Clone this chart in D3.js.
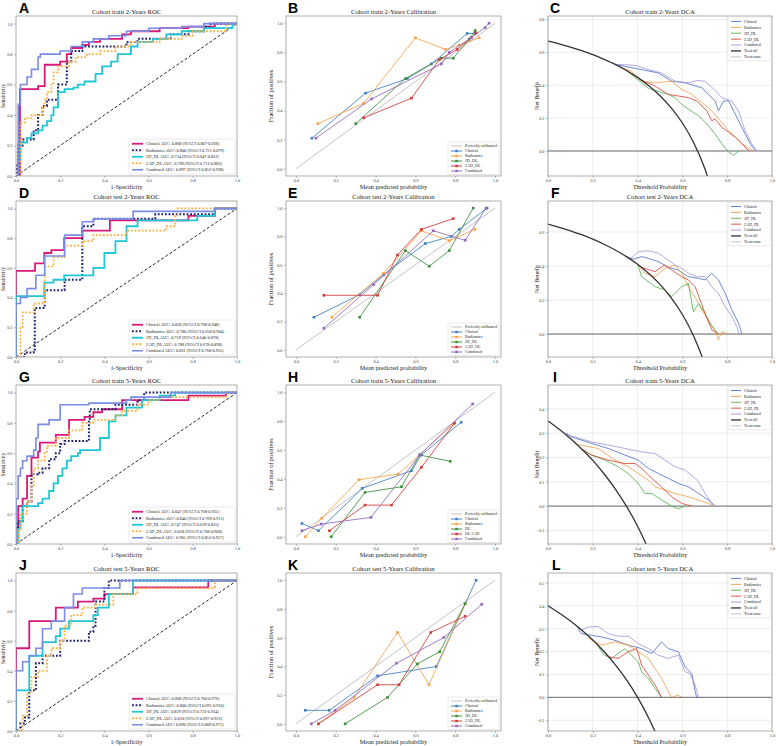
<!DOCTYPE html>
<html><head><meta charset="utf-8">
<script src="https://cdn.jsdelivr.net/npm/d3@7"></script>
<style>body{margin:0;background:#fff}svg{display:block}</style>
</head><body>
<script>
// ---------------- DATA ----------------
const models = ["Clinical","Radiomics","2D_DL","2.5D_DL","Combined"];
const axisTicks = [0,0.2,0.4,0.6,0.8,1.0];

// ROC step points [fpr, tpr] per panel, series in model order
const rocA = [
 [[0,0],[0.018,0.57],[0.1,0.59],[0.13,0.73],[0.2,0.75],[0.23,0.8],[0.25,0.84],[0.3,0.86],[0.33,0.88],[0.38,0.9],[0.48,0.93],[0.52,0.95],[0.65,0.97],[0.78,0.98],[0.9,1.0],[1,1]],
 [[0,0],[0.005,0.08],[0.01,0.2],[0.03,0.24],[0.08,0.3],[0.1,0.4],[0.12,0.46],[0.14,0.5],[0.19,0.6],[0.23,0.75],[0.25,0.82],[0.3,0.85],[0.5,0.88],[0.55,0.9],[0.7,0.93],[0.78,0.95],[0.85,0.98],[0.88,1.0],[1,1]],
 [[0,0],[0.01,0.1],[0.02,0.22],[0.05,0.25],[0.07,0.28],[0.1,0.3],[0.12,0.33],[0.14,0.36],[0.16,0.4],[0.17,0.45],[0.19,0.55],[0.22,0.57],[0.26,0.58],[0.28,0.6],[0.31,0.62],[0.36,0.67],[0.39,0.72],[0.43,0.75],[0.46,0.8],[0.52,0.85],[0.55,0.88],[0.62,0.9],[0.68,0.93],[0.75,0.95],[0.85,0.97],[0.98,1.0],[1,1]],
 [[0,0],[0.02,0.35],[0.04,0.38],[0.07,0.4],[0.12,0.45],[0.13,0.5],[0.14,0.55],[0.16,0.6],[0.17,0.68],[0.19,0.72],[0.24,0.75],[0.27,0.78],[0.32,0.8],[0.38,0.82],[0.45,0.85],[0.52,0.88],[0.65,0.9],[0.75,0.92],[0.8,0.95],[0.95,1.0],[1,1]],
 [[0,0],[0.01,0.47],[0.02,0.6],[0.05,0.65],[0.07,0.7],[0.1,0.78],[0.11,0.8],[0.2,0.82],[0.25,0.85],[0.3,0.88],[0.35,0.9],[0.42,0.92],[0.5,0.95],[0.6,0.97],[0.75,0.98],[0.85,1.0],[1,1]]
];
const rocD = [
 [[0,0],[0,0.58],[0.086,0.63],[0.128,0.7],[0.16,0.72],[0.218,0.8],[0.3,0.85],[0.425,0.92],[0.78,0.95],[0.9,1.0],[1,1]],
 [[0,0],[0.04,0.03],[0.08,0.05],[0.085,0.33],[0.13,0.45],[0.22,0.52],[0.3,0.88],[0.35,0.93],[0.63,0.96],[0.9,1.0],[1,1]],
 [[0,0],[0,0.41],[0.128,0.5],[0.17,0.52],[0.218,0.55],[0.35,0.6],[0.4,0.7],[0.45,0.78],[0.5,0.88],[0.55,0.92],[0.82,0.95],[0.9,1.0],[1,1]],
 [[0,0],[0.02,0.2],[0.03,0.3],[0.08,0.36],[0.13,0.61],[0.17,0.67],[0.22,0.75],[0.3,0.78],[0.35,0.82],[0.5,0.85],[0.68,0.88],[0.72,0.95],[0.73,1.0],[1,1]],
 [[0,0],[0,0.36],[0.02,0.4],[0.05,0.46],[0.09,0.55],[0.13,0.68],[0.22,0.82],[0.3,0.91],[0.35,0.93],[0.53,0.98],[0.9,1.0],[1,1]]
];
const rocG = [
 [[0,0],[0.01,0.25],[0.03,0.3],[0.05,0.45],[0.07,0.57],[0.1,0.61],[0.108,0.67],[0.18,0.72],[0.24,0.82],[0.31,0.84],[0.35,0.87],[0.39,0.89],[0.48,0.95],[0.78,0.98],[0.95,1.0],[1,1]],
 [[0,0],[0.01,0.15],[0.03,0.25],[0.05,0.28],[0.07,0.46],[0.1,0.47],[0.12,0.5],[0.15,0.56],[0.18,0.6],[0.2,0.66],[0.22,0.68],[0.33,0.82],[0.334,0.89],[0.45,0.92],[0.55,0.95],[0.58,1.0],[1,1]],
 [[0,0],[0.01,0.1],[0.02,0.15],[0.03,0.25],[0.1,0.27],[0.12,0.3],[0.15,0.35],[0.17,0.4],[0.19,0.45],[0.21,0.5],[0.23,0.55],[0.25,0.58],[0.28,0.6],[0.29,0.62],[0.38,0.7],[0.42,0.81],[0.45,0.85],[0.5,0.9],[0.57,0.95],[0.65,0.98],[0.72,1.0],[1,1]],
 [[0,0],[0.01,0.1],[0.02,0.2],[0.05,0.28],[0.07,0.38],[0.08,0.5],[0.1,0.55],[0.13,0.6],[0.14,0.65],[0.18,0.7],[0.24,0.75],[0.3,0.8],[0.35,0.82],[0.45,0.85],[0.48,0.88],[0.55,0.92],[0.6,0.95],[0.65,0.97],[0.95,1.0],[1,1]],
 [[0,0],[0,0.3],[0.01,0.45],[0.02,0.5],[0.03,0.55],[0.05,0.58],[0.08,0.62],[0.09,0.7],[0.1,0.79],[0.15,0.82],[0.2,0.92],[0.33,0.93],[0.5,0.95],[0.52,0.97],[0.7,1.0],[1,1]]
];
const rocJ = [
 [[0,0],[0,0.55],[0.06,0.73],[0.18,0.82],[0.28,0.86],[0.35,0.88],[0.4,0.91],[0.53,0.955],[0.87,1.0],[1,1]],
 [[0,0],[0.02,0.05],[0.04,0.09],[0.06,0.27],[0.09,0.45],[0.12,0.5],[0.2,0.6],[0.33,0.66],[0.35,0.7],[0.36,0.86],[0.4,0.95],[0.42,1.0],[1,1]],
 [[0,0],[0,0.27],[0.06,0.5],[0.12,0.59],[0.18,0.63],[0.2,0.68],[0.24,0.73],[0.35,0.77],[0.37,0.82],[0.42,0.91],[0.53,1.0],[1,1]],
 [[0,0],[0.03,0.1],[0.05,0.25],[0.07,0.36],[0.1,0.4],[0.14,0.5],[0.16,0.55],[0.2,0.6],[0.22,0.7],[0.25,0.77],[0.3,0.82],[0.36,0.84],[0.44,0.91],[0.55,0.95],[0.9,1.0],[1,1]],
 [[0,0],[0,0.4],[0.03,0.46],[0.06,0.5],[0.09,0.55],[0.12,0.68],[0.16,0.73],[0.22,0.82],[0.26,0.91],[0.3,0.95],[0.47,1.0],[1,1]]
];
const rocLabelsA = ["Clinical AUC: 0.868 (95%CI 0.807-0.928)","Radiomics AUC: 0.800 (95%CI 0.721-0.879)","2D_DL AUC: 0.734 (95%CI 0.647-0.822)","2.5D_DL AUC: 0.789 (95%CI 0.711-0.866)","Combined AUC: 0.897 (95%CI 0.852-0.938)"];
const rocLabelsD = ["Clinical AUC: 0.858 (95%CI 0.768-0.948)","Radiomics AUC: 0.780 (95%CI 0.658-0.904)","2D_DL AUC: 0.759 (95%CI 0.640-0.878)","2.5D_DL AUC: 0.788 (95%CI 0.678-0.898)","Combined AUC: 0.861 (95%CI 0.768-0.955)"];
const rocLabelsG = ["Clinical AUC: 0.847 (95%CI 0.768-0.925)","Radiomics AUC: 0.840 (95%CI 0.769-0.911)","2D_DL AUC: 0.747 (95%CI 0.659-0.835)","2.5D_DL AUC: 0.838 (95%CI 0.768-0.908)","Combined AUC: 0.905 (95%CI 0.853-0.957)"];
const rocLabelsJ = ["Clinical AUC: 0.868 (95%CI 0.760-0.976)","Radiomics AUC: 0.800 (95%CI 0.691-0.910)","2D_DL AUC: 0.829 (95%CI 0.723-0.934)","2.5D_DL AUC: 0.810 (95%CI 0.697-0.923)","Combined AUC: 0.890 (95%CI 0.809-0.971)"];

// Calibration points [mean predicted, fraction of positives]
const calB = [
 [[0.08,0.21],[0.35,0.52],[0.56,0.62],[0.68,0.72],[0.86,0.93],[0.9,0.93]],
 [[0.11,0.31],[0.34,0.45],[0.6,0.9],[0.75,0.82],[0.82,0.85],[0.92,0.9]],
 [[0.3,0.31],[0.55,0.62],[0.73,0.76],[0.79,0.76],[0.87,0.89],[0.9,0.95]],
 [[0.34,0.35],[0.58,0.485],[0.72,0.75],[0.81,0.82],[0.88,0.9],[0.905,0.935]],
 [[0.1,0.21],[0.38,0.48],[0.73,0.72],[0.77,0.8],[0.88,0.9],[0.95,0.97],[0.97,1.0]]
];
const calE = [
 [[0.09,0.23],[0.32,0.39],[0.44,0.53],[0.65,0.75],[0.78,0.8],[0.82,0.85],[0.96,1.0]],
 [[0.18,0.23],[0.44,0.54],[0.63,0.84],[0.77,0.77],[0.9,0.85]],
 [[0.32,0.23],[0.55,0.7],[0.67,0.59],[0.77,0.7],[0.89,1.0]],
 [[0.14,0.385],[0.41,0.385],[0.51,0.67],[0.63,0.85],[0.79,0.926]],
 [[0.14,0.153],[0.39,0.46],[0.69,0.84],[0.85,0.773],[0.955,1.0]]
];
const calH = [
 [[0.03,0.092],[0.113,0.042],[0.333,0.335],[0.58,0.457],[0.63,0.566],[0.83,0.792]],
 [[0.047,0.0],[0.13,0.129],[0.317,0.395],[0.513,0.434],[0.793,0.781]],
 [[0.177,0.0],[0.347,0.307],[0.53,0.346],[0.622,0.566],[0.775,0.522]],
 [[0.168,0.042],[0.347,0.219],[0.48,0.219],[0.63,0.48],[0.797,0.787]],
 [[0.03,0.042],[0.127,0.088],[0.377,0.134],[0.622,0.566],[0.888,0.919]]
];
const calK = [
 [[0.047,0.094],[0.167,0.094],[0.41,0.334],[0.705,0.399],[0.905,1.0]],
 [[0.113,0.0],[0.293,0.184],[0.51,0.636],[0.668,0.272],[0.85,0.836]],
 [[0.247,0.0],[0.46,0.184],[0.61,0.417],[0.722,0.502],[0.85,0.836]],
 [[0.113,0.0],[0.41,0.272],[0.518,0.272],[0.677,0.636],[0.85,0.749]],
 [[0.077,0.0],[0.197,0.094],[0.505,0.422],[0.743,0.601],[0.933,0.832]]
];
const calLabels = ["Perfectly calibrated","Clinical","Radiomics","2D_DL","2.5D_DL","Combined"];
const calLabelsH = ["Perfectly calibrated","Clinical","Radiomics","DL","DL 2.5D","Combined"];

// DCA: net benefit curves [threshold, net benefit]
const dcaC = [
 [[0.3,0.526],[0.343,0.514],[0.418,0.494],[0.493,0.474],[0.552,0.424],[0.612,0.414],[0.687,0.384],[0.716,0.344],[0.746,0.304],[0.761,0.244],[0.784,0.304],[0.806,0.304],[0.836,0.224],[0.88,0.104],[0.903,0.044],[0.925,0]],
 [[0.33,0.505],[0.373,0.484],[0.418,0.424],[0.478,0.414],[0.552,0.424],[0.597,0.374],[0.642,0.344],[0.687,0.294],[0.731,0.244],[0.769,0.184],[0.806,0.124],[0.836,0.084],[0.866,0.044],[0.896,0.014],[0.918,0]],
 [[0.35,0.489],[0.403,0.43],[0.448,0.38],[0.478,0.368],[0.537,0.344],[0.567,0.324],[0.597,0.284],[0.627,0.254],[0.672,0.214],[0.709,0.164],[0.746,0.104],[0.776,0.044],[0.806,-0.006],[0.828,-0.026],[0.851,0]],
 [[0.35,0.489],[0.418,0.43],[0.478,0.394],[0.537,0.344],[0.582,0.334],[0.627,0.324],[0.664,0.304],[0.709,0.244],[0.731,0.184],[0.746,0.194],[0.776,0.144],[0.806,0.114],[0.836,0.084],[0.866,0.044],[0.896,0]],
 [[0.3,0.526],[0.343,0.524],[0.39,0.52],[0.448,0.494],[0.507,0.474],[0.567,0.424],[0.627,0.414],[0.664,0.428],[0.7,0.424],[0.731,0.388],[0.776,0.324],[0.82,0.304],[0.85,0.244],[0.88,0.124],[0.91,0.044],[0.933,0]]
];
const dcaF = [
 [[0.35,0.455],[0.38,0.44],[0.418,0.455],[0.448,0.445],[0.493,0.425],[0.537,0.392],[0.582,0.376],[0.627,0.337],[0.672,0.327],[0.701,0.318],[0.731,0.357],[0.761,0.318],[0.791,0.239],[0.821,0.141],[0.851,0.063],[0.866,0]],
 [[0.4,0.41],[0.433,0.357],[0.478,0.337],[0.522,0.386],[0.567,0.406],[0.597,0.357],[0.627,0.278],[0.664,0.2],[0.687,0.141],[0.716,0.082],[0.746,0.024],[0.761,-0.035],[0.776,0.014],[0.806,0]],
 [[0.4,0.41],[0.418,0.337],[0.478,0.278],[0.522,0.259],[0.552,0.22],[0.597,0.278],[0.627,0.298],[0.649,0.131],[0.672,0.18],[0.701,0.122],[0.731,0.043],[0.761,0]],
 [[0.42,0.39],[0.478,0.367],[0.522,0.406],[0.552,0.376],[0.597,0.337],[0.627,0.318],[0.657,0.278],[0.679,0.2],[0.701,0.122],[0.731,0.024],[0.761,0]],
 [[0.35,0.455],[0.366,0.44],[0.403,0.484],[0.448,0.49],[0.493,0.475],[0.537,0.435],[0.567,0.406],[0.597,0.386],[0.627,0.357],[0.664,0.337],[0.701,0.337],[0.731,0.278],[0.761,0.239],[0.791,0.161],[0.821,0.102],[0.843,0.043],[0.854,0]]
];
const dcaI = [
 [[0.08,0.30],[0.104,0.285],[0.194,0.258],[0.269,0.237],[0.343,0.21],[0.403,0.189],[0.448,0.155],[0.493,0.134],[0.537,0.114],[0.582,0.093],[0.627,0.079],[0.672,0.052],[0.716,0.025],[0.746,0]],
 [[0.12,0.255],[0.149,0.25],[0.224,0.237],[0.299,0.189],[0.358,0.162],[0.403,0.134],[0.448,0.107],[0.478,0.079],[0.522,0.066],[0.567,0.052],[0.627,0.038],[0.672,0.025],[0.716,0.011],[0.746,0]],
 [[0.15,0.235],[0.194,0.21],[0.254,0.189],[0.313,0.162],[0.358,0.134],[0.403,0.093],[0.433,0.052],[0.463,0.052],[0.507,0.025],[0.552,0],[0.582,-0.011],[0.612,0]],
 [[0.15,0.235],[0.194,0.21],[0.269,0.189],[0.343,0.175],[0.388,0.175],[0.418,0.155],[0.463,0.114],[0.507,0.079],[0.552,0.038],[0.597,0.011],[0.642,0]],
 [[0.08,0.30],[0.104,0.288],[0.194,0.264],[0.269,0.251],[0.343,0.237],[0.418,0.223],[0.478,0.216],[0.522,0.189],[0.567,0.162],[0.612,0.148],[0.657,0.114],[0.672,0.1],[0.701,0.052],[0.731,0.011],[0.746,0]]
];
const dcaL = [
 [[0.13,0.31],[0.149,0.278],[0.194,0.271],[0.239,0.264],[0.299,0.249],[0.358,0.228],[0.418,0.213],[0.463,0.191],[0.507,0.242],[0.537,0.213],[0.582,0.199],[0.612,0.133],[0.642,0.104],[0.657,0.025],[0.664,0]],
 [[0.18,0.26],[0.194,0.249],[0.239,0.228],[0.299,0.242],[0.358,0.228],[0.403,0.199],[0.448,0.17],[0.478,0.126],[0.507,0.083],[0.537,0.025],[0.552,0],[0.582,0.01],[0.597,0]],
 [[0.22,0.228],[0.25,0.185],[0.284,0.17],[0.343,0.213],[0.373,0.184],[0.403,0.155],[0.418,0.112],[0.448,0.083],[0.478,0.039],[0.507,0]],
 [[0.25,0.2],[0.269,0.177],[0.313,0.17],[0.358,0.199],[0.396,0.213],[0.418,0.141],[0.448,0.097],[0.478,0.054],[0.507,0]],
 [[0.15,0.294],[0.179,0.307],[0.224,0.31],[0.269,0.278],[0.313,0.267],[0.358,0.267],[0.403,0.235],[0.448,0.213],[0.493,0.184],[0.537,0.17],[0.582,0.184],[0.612,0.112],[0.634,0.104],[0.657,0.054],[0.672,0]]
];
// Treat-all curves read at thresholds 0,0.05,...
const dcaThresholds = [0,0.05,0.1,0.15,0.2,0.25,0.3,0.35,0.4,0.45,0.5,0.55,0.6,0.65,0.7,0.75];
const treatAllC = [0.668,0.651,0.631,0.609,0.585,0.557,0.526,0.489,0.447,0.396,0.336,0.262,0.170,0.051,-0.107,-0.328];
const treatAllF = [0.646,0.627,0.607,0.584,0.558,0.528,0.494,0.455,0.410,0.356,0.292,0.213,0.115,-0.011,-0.180,-0.416];
const treatAllI = [0.35,0.316,0.278,0.235,0.188,0.133,0.071,0.0,-0.083,-0.182,-0.30,-0.44,-0.625,-0.857,-1.17,-1.6];
const treatAllL = [0.40,0.368,0.333,0.294,0.25,0.20,0.143,0.077,0.0,-0.091,-0.20,-0.333,-0.5,-0.714,-1.0,-1.4];
const dcaLabels = ["Clinical","Radiomics","2D_DL","2.5D_DL","Combined","Treat all","Treat none"];

// ---------------- STYLE / LAYOUT ----------------
const W=776,H=746;
const serif="'Liberation Serif','Times New Roman',serif";
const sans="'Liberation Sans',Arial,sans-serif";
const rocStyle=[
 {c:"#d6197a",w:1.8,d:null},
 {c:"#1b1f6e",w:2.0,d:"1.8,1.8"},
 {c:"#1ec6d6",w:1.8,d:null},
 {c:"#ffae3a",w:1.8,d:"1.8,1.8"},
 {c:"#7a8ce6",w:1.6,d:null}
];
const calColors=["#3d7fc1","#f7a14a","#3b8f3b","#d43a3a","#9467bd"];
const dcaColors=["#4d6dc6","#f59c45","#4fae4a","#dd3f35","#a293dc"];
const cols={roc:[16,237],cal:[286,501],dca:[548,772]};
const rows=[[16,176],[201,357],[385,544],[573,731]];
const svg=d3.select("body").append("svg").attr("width",W).attr("height",H).style("background","#fff");
const defs=svg.append("defs");
let clipN=0;

function panel(o){
  const [x0,x1]=cols[o.col],[y0,y1]=rows[o.row];
  const x=d3.scaleLinear().domain(o.xd).range([x0,x1]);
  const y=d3.scaleLinear().domain(o.yd).range([y1,y0]);
  const id="clip"+(clipN++);
  defs.append("clipPath").attr("id",id).append("rect").attr("x",x0).attr("y",y0).attr("width",x1-x0).attr("height",y1-y0);
  if(o.grid){
    const gg=svg.append("g");
    gg.selectAll("line.v").data(o.xticks).join("line").attr("x1",d=>x(d)).attr("x2",d=>x(d)).attr("y1",y0).attr("y2",y1).attr("stroke","#e2e2e2").attr("stroke-width",0.6);
    gg.selectAll("line.h").data(o.yticks).join("line").attr("y1",d=>y(d)).attr("y2",d=>y(d)).attr("x1",x0).attr("x2",x1).attr("stroke","#e2e2e2").attr("stroke-width",0.6);
  }
  const fmt=d3.format(".1f");
  const gx=svg.append("g").attr("transform",`translate(0,${y1})`).call(d3.axisBottom(x).tickValues(o.xticks).tickSize(2).tickPadding(1.2).tickFormat(fmt));
  const gy=svg.append("g").attr("transform",`translate(${x0},0)`).call(d3.axisLeft(y).tickValues(o.yticks).tickSize(2).tickPadding(1.5).tickFormat(fmt));
  [gx,gy].forEach(g=>{g.select(".domain").remove();g.selectAll("line").attr("stroke","#777").attr("stroke-width",0.5);g.selectAll("text").attr("font-family",serif).attr("font-size",4.3).attr("fill","#444");});
  const plot=svg.append("g").attr("clip-path",`url(#${id})`);
  svg.append("text").attr("x",(x0+x1)/2).attr("y",y0-2).attr("text-anchor","middle").attr("font-family",serif).attr("font-size",6.6).attr("fill","#222").text(o.title);
  svg.append("text").attr("x",o.lx).attr("y",y0-3).attr("font-family",sans).attr("font-weight","bold").attr("font-size",14).attr("fill","#000").text(o.letter);
  svg.append("text").attr("x",(x0+x1)/2).attr("y",y1+o.xlOff).attr("text-anchor","middle").attr("font-family",serif).attr("font-size",6.2).attr("fill","#222").text(o.xlabel);
  svg.append("text").attr("transform",`translate(${x0-o.ylOff},${(y0+y1)/2}) rotate(-90)`).attr("text-anchor","middle").attr("font-family",serif).attr("font-size",o.ylSize||6.2).attr("fill","#222").text(o.ylabel);
  const frame=()=>svg.append("rect").attr("x",x0).attr("y",y0).attr("width",x1-x0).attr("height",y1-y0).attr("fill","none").attr("stroke","#8c8c8c").attr("stroke-width",0.7);
  return {x,y,plot,x0,x1,y0,y1,frame};
}

function legend(x,y,w,rowH,fs,sample,items){
  const g=svg.append("g");
  g.append("rect").attr("x",x).attr("y",y).attr("width",w).attr("height",items.length*rowH+2.5).attr("rx",1)
    .attr("fill","#fff").attr("fill-opacity",0.9).attr("stroke","#d4d4d4").attr("stroke-width",0.5);
  items.forEach((it,i)=>{
    const cy=y+1.5+rowH*(i+0.5);
    g.append("line").attr("x1",x+3).attr("x2",x+3+sample).attr("y1",cy).attr("y2",cy).attr("stroke",it.c).attr("stroke-width",it.w).attr("stroke-dasharray",it.d||null);
    if(it.m) g.append("rect").attr("x",x+3+sample/2-1.2).attr("y",cy-1.2).attr("width",2.4).attr("height",2.4).attr("fill",it.c);
    g.append("text").attr("x",x+6+sample).attr("y",cy).attr("dy","0.35em").attr("font-family",serif).attr("font-size",fs).attr("fill","#222").text(it.label);
  });
}

function rocPanel(row,letter,title,series,labels,xlOff){
  const p=panel({col:"roc",row,xd:[0,1],yd:[0,1.05],xticks:axisTicks,yticks:axisTicks,title,letter,lx:19,xlabel:"1-Specificity",ylabel:"Sensitivity",xlOff,ylOff:11,ylSize:5.6});
  const line=d3.line().x(d=>p.x(d[0])).y(d=>p.y(d[1])).curve(d3.curveStepAfter);
  p.plot.append("line").attr("x1",p.x(0)).attr("y1",p.y(0)).attr("x2",p.x(1)).attr("y2",p.y(1)).attr("stroke","#111").attr("stroke-width",0.9).attr("stroke-dasharray","3,2");
  series.forEach((s,i)=>{
    p.plot.append("path").datum(s).attr("d",line).attr("fill","none").attr("stroke",rocStyle[i].c).attr("stroke-width",rocStyle[i].w).attr("stroke-dasharray",rocStyle[i].d);
  });
  p.frame();
  legend(p.x1-108,p.y1-37,106,6.5,4.3,11,labels.map((l,i)=>({label:l,c:rocStyle[i].c,w:rocStyle[i].w,d:rocStyle[i].d})));
}

function calPanel(row,letter,title,series,labels,xlOff){
  const p=panel({col:"cal",row,xd:[-0.05,1.03],yd:[-0.05,1.05],xticks:axisTicks,yticks:axisTicks,title,letter,lx:288,xlabel:"Mean predicted probability",ylabel:"Fraction of positives",xlOff,ylOff:13,ylSize:6.4});
  const line=d3.line().x(d=>p.x(d[0])).y(d=>p.y(d[1]));
  p.plot.append("line").attr("x1",p.x(0)).attr("y1",p.y(0)).attr("x2",p.x(1)).attr("y2",p.y(1)).attr("stroke","#c4c4c4").attr("stroke-width",1);
  series.forEach((s,i)=>{
    p.plot.append("path").datum(s).attr("d",line).attr("fill","none").attr("stroke",calColors[i]).attr("stroke-width",1).attr("stroke-opacity",0.85);
    p.plot.selectAll(null).data(s).join("rect").attr("x",d=>p.x(d[0])-1.3).attr("y",d=>p.y(d[1])-1.3).attr("width",2.6).attr("height",2.6).attr("fill",calColors[i]);
  });
  p.frame();
  const items=[{label:labels[0],c:"#c4c4c4",w:1}].concat(models.map((m,i)=>({label:labels[i+1],c:calColors[i],w:1,m:true})));
  legend(p.x1-53,p.y1-34,51,5,4.1,11,items);
}

function dcaPanel(row,letter,lx,title,series,treatAll,yd,yticks,xlOff){
  const p=panel({col:"dca",row,xd:[0,1],yd,xticks:axisTicks,yticks,title,letter,lx,xlabel:"Threshold Probability",ylabel:"Net Benefit",xlOff,ylOff:9,ylSize:6,grid:true});
  const line=d3.line().x(d=>p.x(d[0])).y(d=>p.y(d[1]));
  p.plot.append("line").attr("x1",p.x(0)).attr("x2",p.x(1)).attr("y1",p.y(0)).attr("y2",p.y(0)).attr("stroke","#6a6a6a").attr("stroke-width",1);
  series.forEach((s,i)=>{
    p.plot.append("path").datum(s).attr("d",line).attr("fill","none").attr("stroke",dcaColors[i]).attr("stroke-width",0.9).attr("stroke-opacity",0.9);
  });
  const ta=dcaThresholds.map((t,i)=>[t,treatAll[i]]);
  p.plot.append("path").datum(ta).attr("d",line.curve(d3.curveMonotoneX)).attr("fill","none").attr("stroke","#333").attr("stroke-width",1.3);
  p.frame();
  const items=dcaLabels.map((l,i)=>({label:l,c:i<5?dcaColors[i]:(i==5?"#333":"#bdbdbd"),w:i==5?1.3:0.9}));
  legend(p.x1-44,p.y0+1,43,5.9,4,10,items);
}

rocPanel(0,"A","Cohort train 2-Years ROC",rocA,rocLabelsA,13);
rocPanel(1,"D","Cohort test 2-Years ROC",rocD,rocLabelsD,13);
rocPanel(2,"G","Cohort train 5-Years ROC",rocG,rocLabelsG,13);
rocPanel(3,"J","Cohort test 5-Years ROC",rocJ,rocLabelsJ,13);

calPanel(0,"B","Cohort train 2-Years Calibration",calB,calLabels,13);
calPanel(1,"E","Cohort test 2-Years Calibration",calE,calLabels,13);
calPanel(2,"H","Cohort train 5-Years Calibration",calH,calLabelsH,13);
calPanel(3,"K","Cohort test 5-Years Calibration",calK,calLabels,13);

dcaPanel(0,"C",550,"Cohort train 2-Years DCA",dcaC,treatAllC,[-0.152,0.82],[0,0.2,0.4,0.6,0.8],13);
dcaPanel(1,"F",551,"Cohort test 2-Years DCA",dcaF,treatAllF,[-0.135,0.782],[0,0.2,0.4,0.6],13);
dcaPanel(2,"I",553,"Cohort train 5-Years DCA",dcaI,treatAllI,[-0.156,0.498],[-0.1,0,0.1,0.2,0.3,0.4],13);
dcaPanel(3,"L",552,"Cohort test 5-Years DCA",dcaL,treatAllL,[-0.147,0.543],[-0.1,0,0.1,0.2,0.3,0.4,0.5],13);
</script>
</body></html>
